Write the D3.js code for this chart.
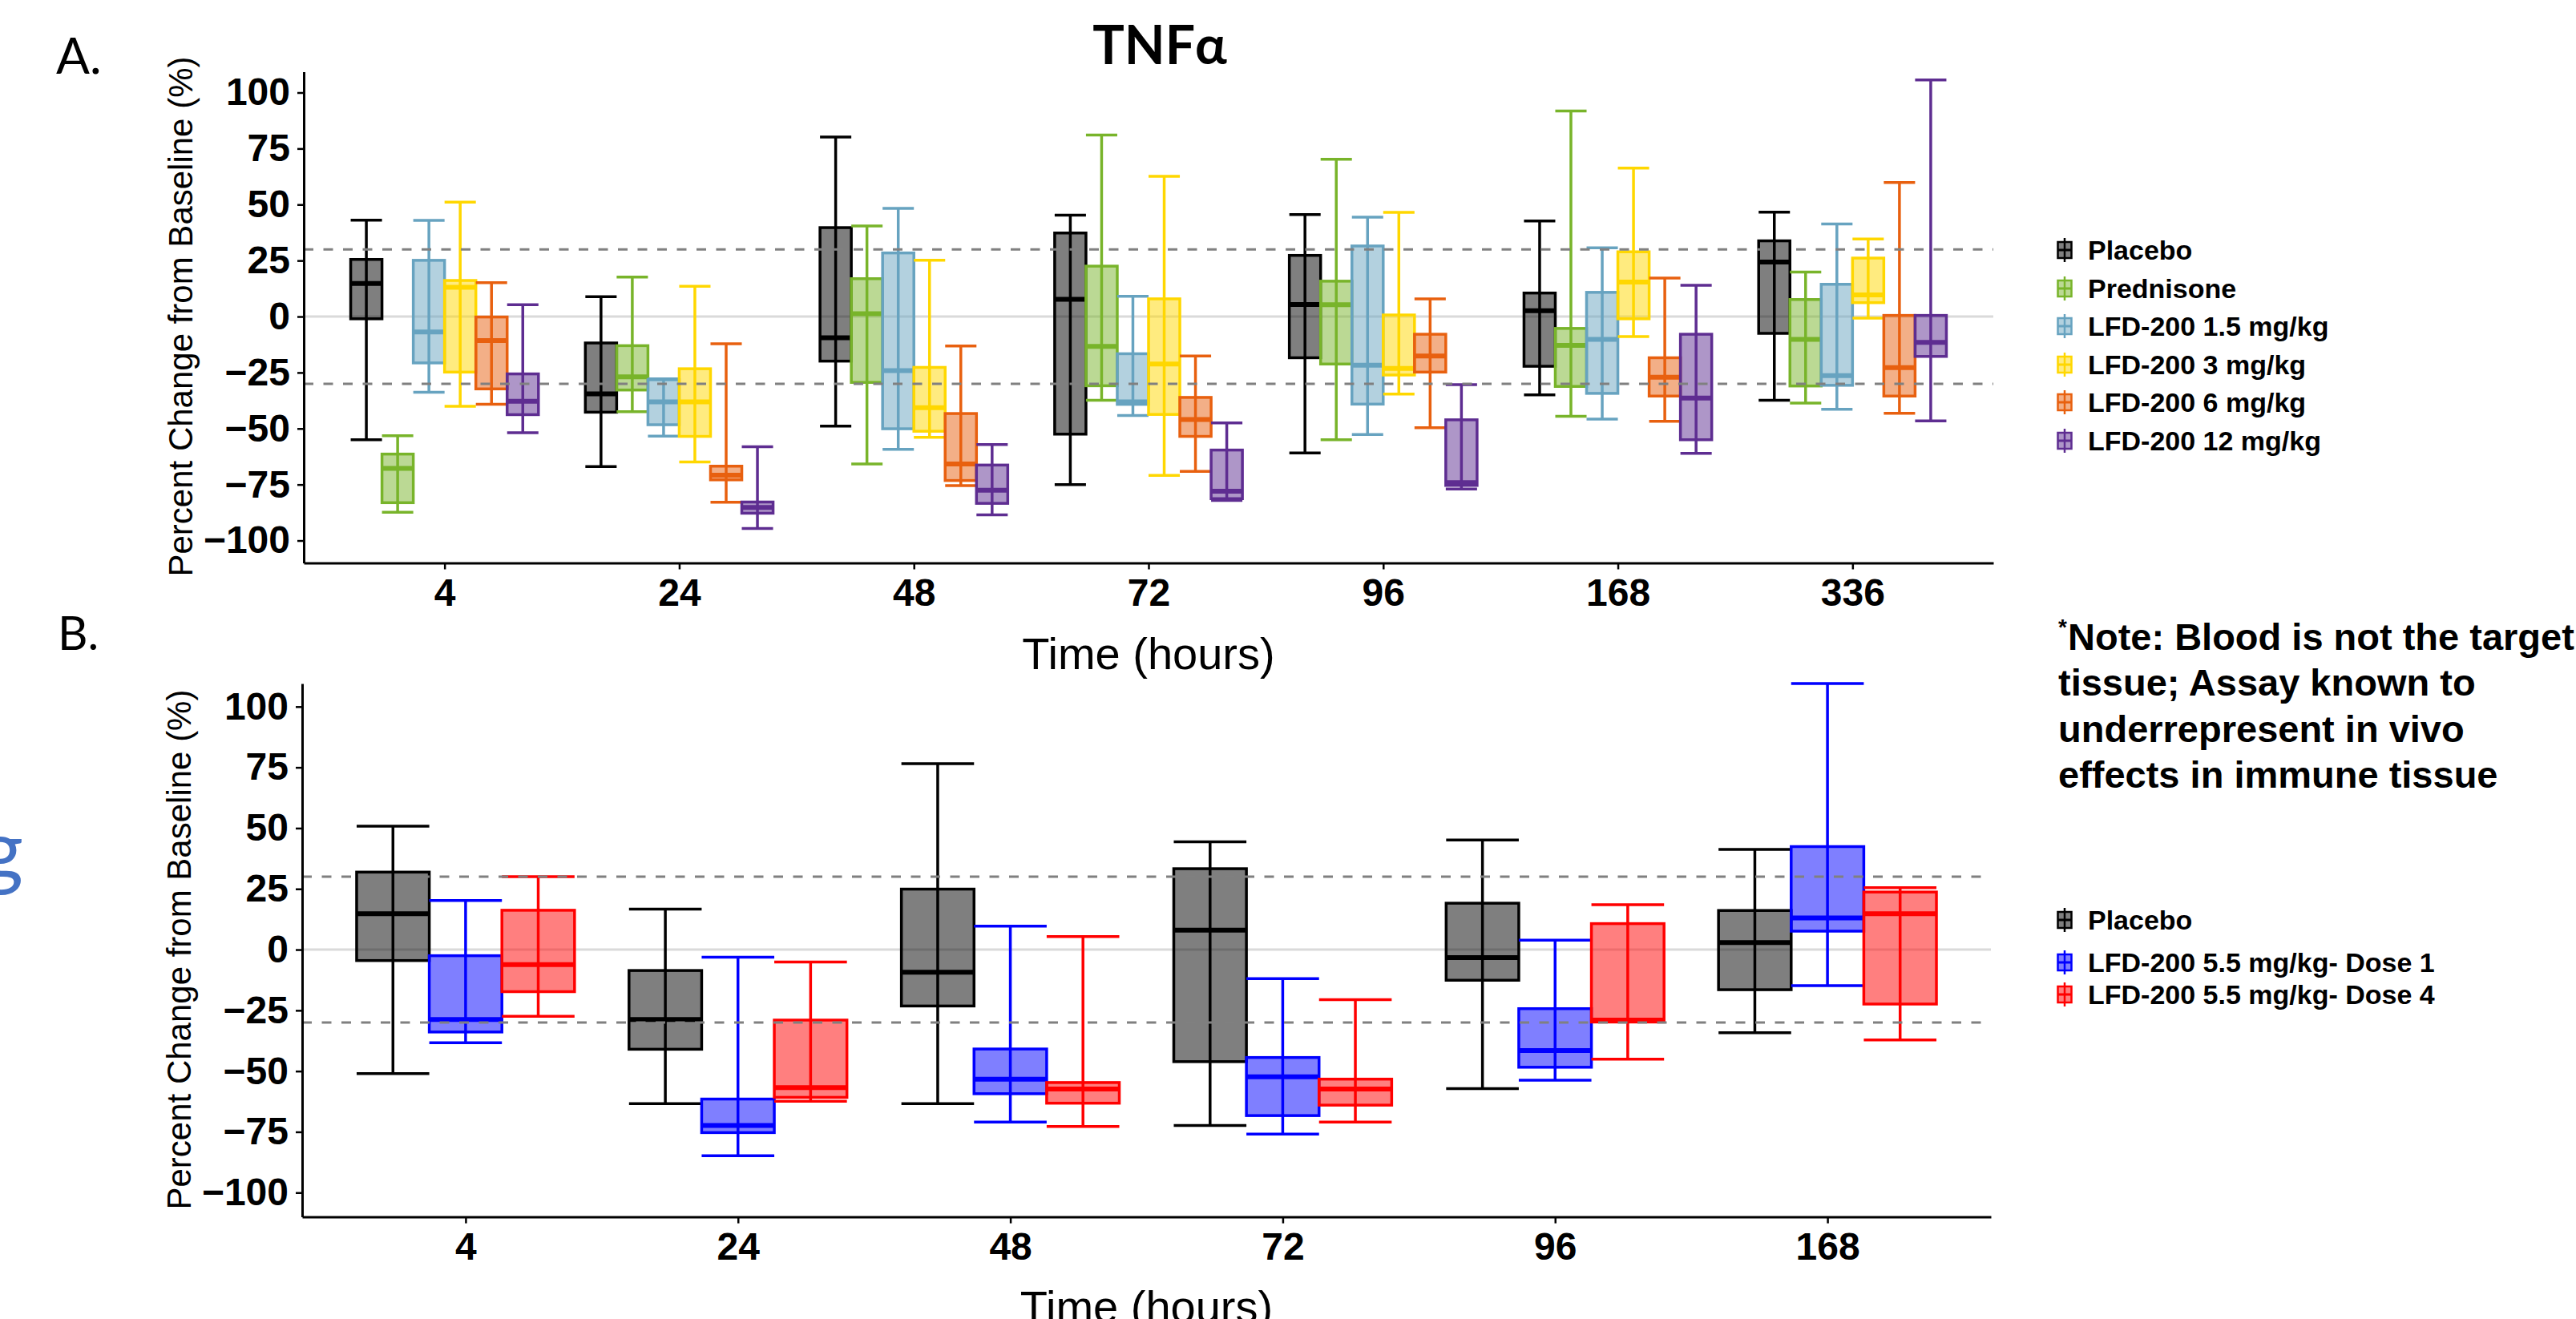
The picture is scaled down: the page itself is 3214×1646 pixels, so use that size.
<!DOCTYPE html>
<html>
<head>
<meta charset="utf-8">
<script src="https://cdn.jsdelivr.net/npm/d3@7"></script>
<style>
  body { margin: 0; background: #fff; }
  svg { display: block; }
</style>
</head>
<body>
<div id="main"></div>
<script>
// ---- data: five-number summaries [low whisker, Q1, median, Q3, high whisker] ----
const timesA = ["4", "24", "48", "72", "96", "168", "336"];
const groupsA = ["Placebo", "Prednisone", "LFD-200 1.5 mg/kg", "LFD-200 3 mg/kg", "LFD-200 6 mg/kg", "LFD-200 12 mg/kg"];
const colorsA = ["#000000", "#78b42a", "#67a3c0", "#ffd700", "#e8600f", "#5e2d91"];

const placeboA = [
  [-55.0, -1.0, 14.8, 25.5, 43.0],
  [-67.0, -42.7, -34.5, -11.8, 8.9],
  [-48.9, -19.9, -9.5, 39.7, 80.1],
  [-75.0, -52.5, 7.7, 37.3, 45.3],
  [-60.9, -18.4, 5.4, 27.3, 45.5],
  [-35.0, -22.2, 2.6, 10.5, 42.7],
  [-37.4, -7.5, 24.3, 33.8, 46.6]
];
const prednisoneA = [
  [-87.4, -83.1, -67.8, -61.4, -53.2],
  [-42.5, -32.8, -26.9, -13.0, 17.6],
  [-65.8, -29.4, 1.3, 16.9, 40.4],
  [-37.4, -30.9, -13.3, 22.5, 81.0],
  [-55.0, -21.2, 5.3, 15.8, 70.2],
  [-44.5, -31.2, -12.9, -5.3, 91.8],
  [-38.6, -31.0, -10.2, 7.6, 19.9]
];
const lfd15A = [
  [-33.8, -20.7, -6.9, 25.1, 42.9],
  [-53.4, -48.3, -38.1, -28.2, -27.8],
  [-59.3, -50.1, -24.1, 28.4, 48.3],
  [-44.2, -39.2, -38.1, -16.6, 9.0],
  [-52.7, -39.1, -21.7, 31.5, 44.4],
  [-45.8, -34.3, -10.2, 10.8, 30.7],
  [-41.4, -30.7, -26.4, 14.4, 41.3]
];
const lfd3A = [
  [-40.1, -24.8, 13.1, 16.1, 51.1],
  [-64.9, -53.5, -38.1, -23.3, 13.5],
  [-53.9, -51.2, -40.7, -22.7, 25.1],
  [-70.9, -43.7, -21.2, 7.9, 62.6],
  [-34.6, -26.1, -23.2, 0.7, 46.5],
  [-8.9, -1.0, 15.4, 28.9, 66.3],
  [-0.7, 6.2, 9.7, 26.1, 34.6]
];
const lfd6A = [
  [-39.2, -32.3, -10.7, -0.2, 15.1],
  [-82.9, -72.9, -70.8, -66.8, -12.2],
  [-75.5, -73.2, -65.8, -43.3, -13.1],
  [-69.1, -53.5, -46.0, -36.1, -17.6],
  [-49.6, -24.8, -17.6, -7.9, 7.9],
  [-46.8, -35.5, -27.1, -18.4, 17.2],
  [-43.2, -35.5, -22.8, 0.5, 59.8]
];
const lfd12A = [
  [-51.9, -43.8, -37.8, -25.6, 5.3],
  [-94.6, -87.8, -85.2, -82.8, -58.1],
  [-88.5, -83.4, -77.5, -66.3, -57.1],
  [-82.1, -81.3, -78.0, -59.6, -47.5],
  [-77.0, -75.4, -74.1, -46.1, -30.4],
  [-61.1, -55.0, -36.4, -7.9, 14.0],
  [-46.6, -17.8, -11.5, 0.5, 105.6]
];

const timesB = ["4", "24", "48", "72", "96", "168"];
const groupsB = ["Placebo", "LFD-200 5.5 mg/kg- Dose 1", "LFD-200 5.5 mg/kg- Dose 4"];
const colorsB = ["#000000", "#0000ff", "#ff0000"];

const placeboB = [
  [-51.0, -4.5, 14.8, 31.9, 50.8],
  [-63.4, -41.0, -28.8, -8.6, 16.7],
  [-63.4, -23.2, -9.3, 24.9, 76.5],
  [-72.4, -46.1, 8.0, 33.3, 44.4],
  [-57.2, -12.6, -3.3, 19.1, 45.1],
  [-34.2, -16.5, 2.9, 16.1, 41.2]
];
const dose1B = [
  [-38.3, -33.9, -28.8, -2.5, 20.2],
  [-84.8, -75.3, -72.4, -61.5, -3.1],
  [-71.0, -59.3, -53.3, -40.9, 9.7],
  [-75.9, -68.3, -52.3, -44.4, -11.9],
  [-53.7, -48.4, -41.5, -24.3, 3.9],
  [-14.8, 7.6, 13.0, 42.4, 109.5]
];
const dose4B = [
  [-27.4, -17.3, -6.2, 16.2, 30.0],
  [-62.4, -60.8, -56.8, -29.0, -5.1],
  [-72.8, -63.2, -57.4, -54.7, 5.4],
  [-71.0, -64.0, -57.4, -53.3, -20.6],
  [-45.1, -29.8, -29.0, 10.7, 18.5],
  [-37.2, -22.4, 14.8, 23.7, 25.5]
];

const yTicks = [-100, -75, -50, -25, 0, 25, 50, 75, 100];
const refLines = [-30, 30];

const width = 3214;
const height = 1646;
const axisFont = "'Liberation Sans', Arial, sans-serif";
const slideFont = "Lato, 'Open Sans', sans-serif";

const svg = d3.select("#main")
  .append("svg")
  .attr("width", width)
  .attr("height", height)
  .style("background", "#fff");

function drawPanel(opts) {
  const g = svg.append("g");
  const x = d3.scalePoint()
    .domain(opts.times)
    .range([opts.left, opts.right])
    .padding(0.6);
  const y = d3.scaleLinear()
    .domain(opts.yDomain)
    .range([opts.bottom, opts.top]);
  const n = opts.series.length;
  const bw = x.step() * 0.8 / n;

  // zero line
  g.append("line")
    .attr("x1", opts.left).attr("x2", opts.right)
    .attr("y1", y(0)).attr("y2", y(0))
    .attr("stroke", "#dadada")
    .attr("stroke-width", 3);

  opts.series.forEach((s, i) => {
    const col = opts.colors[i];
    const sg = g.append("g");
    const rows = s.map((d, j) => ({ t: opts.times[j], v: d }));
    const cx = (d) => x(d.t) + (i - (n - 1) / 2) * bw;

    sg.selectAll("rect.box")
      .data(rows)
      .enter()
      .append("rect")
      .attr("class", "box")
      .attr("x", (d) => cx(d) - bw / 2)
      .attr("width", bw)
      .attr("y", (d) => y(d.v[3]))
      .attr("height", (d) => y(d.v[1]) - y(d.v[3]))
      .attr("fill", col)
      .attr("fill-opacity", 0.5)
      .attr("stroke", col)
      .attr("stroke-width", 3.5);

    // whisker through the box
    sg.selectAll("line.whisk")
      .data(rows)
      .enter()
      .append("line")
      .attr("x1", cx).attr("x2", cx)
      .attr("y1", (d) => y(d.v[0]))
      .attr("y2", (d) => y(d.v[4]))
      .attr("stroke", col)
      .attr("stroke-width", 3.5);

    [0, 4].forEach((k) => {
      sg.selectAll("line.cap" + k)
        .data(rows)
        .enter()
        .append("line")
        .attr("x1", (d) => cx(d) - bw / 2)
        .attr("x2", (d) => cx(d) + bw / 2)
        .attr("y1", (d) => y(d.v[k]))
        .attr("y2", (d) => y(d.v[k]))
        .attr("stroke", col)
        .attr("stroke-width", 3.5);
    });

    sg.selectAll("line.med")
      .data(rows)
      .enter()
      .append("line")
      .attr("x1", (d) => cx(d) - bw / 2)
      .attr("x2", (d) => cx(d) + bw / 2)
      .attr("y1", (d) => y(d.v[2]))
      .attr("y2", (d) => y(d.v[2]))
      .attr("stroke", col)
      .attr("stroke-width", 6);
  });

  // +/- 30% reference lines
  g.selectAll("line.ref")
    .data(refLines)
    .enter()
    .append("line")
    .attr("x1", opts.left).attr("x2", opts.right)
    .attr("y1", (d) => y(d)).attr("y2", (d) => y(d))
    .attr("stroke", "#808080")
    .attr("stroke-width", 3)
    .attr("stroke-dasharray", "12,12.5");

  const yAxis = d3.axisLeft(y)
    .tickValues(yTicks)
    .tickSize(8)
    .tickSizeOuter(0)
    .tickPadding(9);
  const ya = g.append("g")
    .attr("transform", "translate(" + opts.left + ",0)")
    .call(yAxis);

  const xAxis = d3.axisBottom(x)
    .tickSize(8)
    .tickSizeOuter(0)
    .tickPadding(11);
  const xa = g.append("g")
    .attr("transform", "translate(0," + opts.bottom + ")")
    .call(xAxis);

  [ya, xa].forEach((a) => {
    a.select(".domain").attr("stroke", "#000").attr("stroke-width", 3);
    a.selectAll(".tick line").attr("stroke", "#000").attr("stroke-width", 2.5);
    a.selectAll(".tick text")
      .attr("fill", "#000")
      .style("font-family", axisFont)
      .style("font-weight", "bold")
      .style("font-size", "48px");
  });

  g.append("text")
    .attr("transform", "translate(" + (opts.left - 139) + "," + y(0) + ") rotate(-90)")
    .attr("text-anchor", "middle")
    .style("font-family", axisFont)
    .style("font-size", "42px")
    .text("Percent Change from Baseline (%)");

  g.append("text")
    .attr("x", (opts.left + opts.right) / 2)
    .attr("y", opts.xTitleY)
    .attr("text-anchor", "middle")
    .style("font-family", axisFont)
    .style("font-size", "56px")
    .text("Time (hours)");

  // legend
  const lg = g.append("g");
  opts.groups.forEach((name, i) => {
    const col = opts.colors[i];
    const cy = opts.legendY[i];
    const kx = 2576;
    lg.append("line")
      .attr("x1", kx).attr("x2", kx)
      .attr("y1", cy - 15).attr("y2", cy + 15)
      .attr("stroke", col).attr("stroke-width", 2.5);
    lg.append("rect")
      .attr("x", kx - 8.5).attr("y", cy - 10)
      .attr("width", 17).attr("height", 20)
      .attr("fill", col).attr("fill-opacity", 0.5)
      .attr("stroke", col).attr("stroke-width", 2.5);
    lg.append("line")
      .attr("x1", kx - 8.5).attr("x2", kx + 8.5)
      .attr("y1", cy).attr("y2", cy)
      .attr("stroke", col).attr("stroke-width", 3);
    lg.append("text")
      .attr("x", 2605)
      .attr("y", cy + 12)
      .style("font-family", axisFont)
      .style("font-weight", "bold")
      .style("font-size", "34px")
      .text(name);
  });
}

drawPanel({
  times: timesA,
  series: [placeboA, prednisoneA, lfd15A, lfd3A, lfd6A, lfd12A],
  colors: colorsA,
  groups: groupsA,
  left: 379, right: 2487, top: 89.5, bottom: 702.5,
  yDomain: [-110, 109.3],
  xTitleY: 835,
  legendY: [312, 360, 407, 455, 502, 550]
});

drawPanel({
  times: timesB,
  series: [placeboB, dose1B, dose4B],
  colors: colorsB,
  groups: groupsB,
  left: 377, right: 2484, top: 853, bottom: 1518.6,
  yDomain: [-110, 109.5],
  xTitleY: 1650,
  legendY: [1148, 1201, 1241]
});

// slide decorations
svg.append("text")
  .attr("x", 70).attr("y", 92)
  .style("font-family", slideFont)
  .style("font-size", "62px")
  .text("A.");
svg.append("text")
  .attr("x", 72).attr("y", 811)
  .style("font-family", slideFont)
  .style("font-size", "58px")
  .text("B.");
svg.append("text")
  .attr("x", 1447).attr("y", 80)
  .attr("text-anchor", "middle")
  .style("font-family", slideFont)
  .style("font-weight", "bold")
  .style("font-size", "66px")
  .text("TNFα");
svg.append("text")
  .attr("x", 29).attr("y", 1098)
  .attr("text-anchor", "end")
  .attr("fill", "#4472c4")
  .style("font-family", slideFont)
  .style("font-size", "104px")
  .text("g");

const noteLines = ["Note: Blood is not the target", "tissue; Assay known to", "underrepresent in vivo", "effects in immune tissue"];
const note = svg.append("text")
  .style("font-family", axisFont)
  .style("font-weight", "bold")
  .style("font-size", "47px");
note.append("tspan")
  .attr("x", 2568).attr("y", 792)
  .style("font-size", "28px")
  .text("*");
noteLines.forEach((t, i) => {
  note.append("tspan")
    .attr("x", i === 0 ? 2580 : 2568)
    .attr("y", 811 + i * 57.3)
    .text(t);
});
</script>
</body>
</html>
